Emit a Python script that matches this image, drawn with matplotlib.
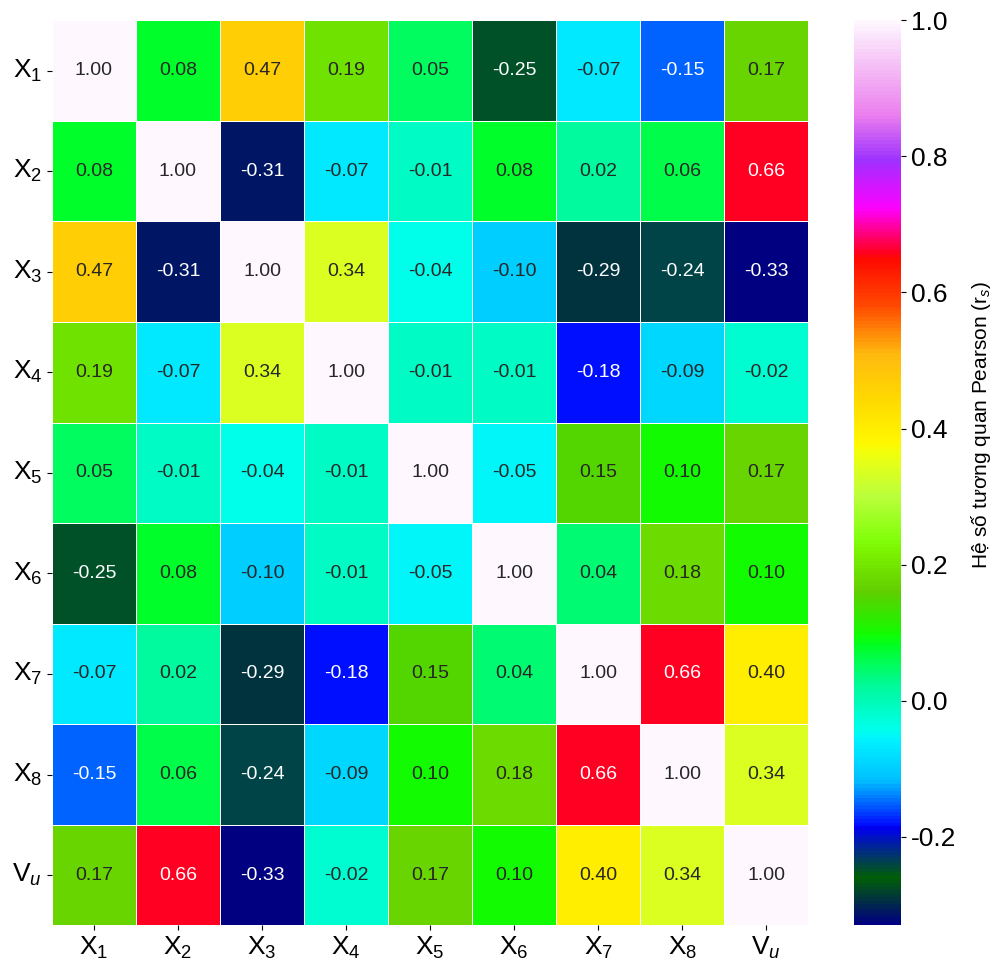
import matplotlib
matplotlib.use("Agg")
import matplotlib.pyplot as plt
import numpy as np
import seaborn as sns

plt.rcParams["font.family"] = ["Liberation Sans", "DejaVu Sans"]
plt.rcParams["mathtext.fontset"] = "custom"
plt.rcParams["mathtext.rm"] = "Liberation Sans"
plt.rcParams["mathtext.it"] = "Liberation Sans:italic"
plt.rcParams["axes.unicode_minus"] = False

labels = [r"X$_1$", r"X$_2$", r"X$_3$", r"X$_4$", r"X$_5$",
          r"X$_6$", r"X$_7$", r"X$_8$", r"V$_u$"]

corr = np.array([
    [1.00, 0.08, 0.47, 0.19, 0.05, -0.25, -0.07, -0.15, 0.17],
    [0.08, 1.00, -0.31, -0.07, -0.01, 0.08, 0.02, 0.06, 0.66],
    [0.47, -0.31, 1.00, 0.34, -0.04, -0.10, -0.29, -0.24, -0.33],
    [0.19, -0.07, 0.34, 1.00, -0.01, -0.01, -0.18, -0.09, -0.02],
    [0.05, -0.01, -0.04, -0.01, 1.00, -0.05, 0.15, 0.10, 0.17],
    [-0.25, 0.08, -0.10, -0.01, -0.05, 1.00, 0.04, 0.18, 0.10],
    [-0.07, 0.02, -0.29, -0.18, 0.15, 0.04, 1.00, 0.66, 0.40],
    [-0.15, 0.06, -0.24, -0.09, 0.10, 0.18, 0.66, 1.00, 0.34],
    [0.17, 0.66, -0.33, -0.02, 0.17, 0.10, 0.40, 0.34, 1.00],
])

fig = plt.figure(figsize=(9.99, 9.65), dpi=100)
ax = fig.add_axes([0.052, 0.041, 0.757, 0.938])
cax = fig.add_axes([0.855, 0.041, 0.047, 0.938])

sns.heatmap(corr, ax=ax, cbar_ax=cax, cmap="gist_ncar", annot=True, fmt=".2f",
            annot_kws={"size": 14}, linewidths=0.5, linecolor="white",
            xticklabels=labels, yticklabels=labels)

ax.tick_params(axis="both", labelsize=19)
ax.set_yticklabels(labels, rotation=0)
ax.set_xticklabels(labels, rotation=0)

cax.tick_params(labelsize=19)
cax.set_ylabel(r"Hệ số tương quan Pearson (r$_s$)", fontsize=15, labelpad=9)
cax.yaxis.label.set_y(0.553)

fig.savefig("out.png", dpi=100)
